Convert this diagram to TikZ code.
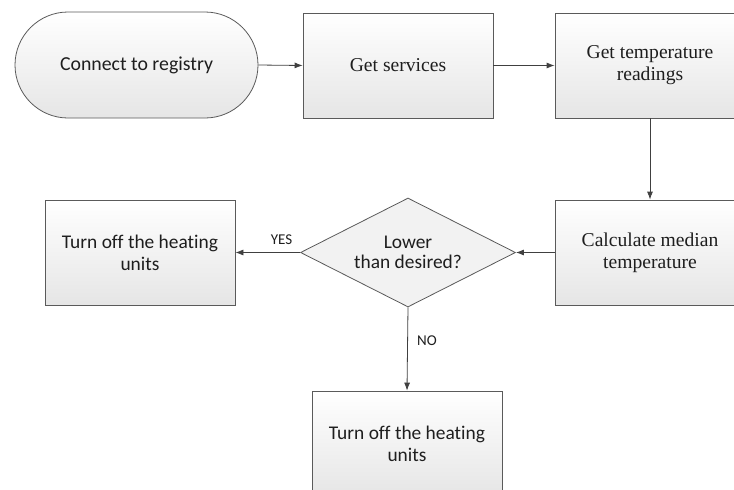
\documentclass[tikz,border=0pt]{standalone}
\usepackage{fontspec}
\setmainfont{Liberation Serif}
\newfontfamily\labelsans[Ligatures=NoCommon]{Carlito}
\usetikzlibrary{shapes.geometric,arrows.meta,shadings}
\definecolor{edgegray}{HTML}{5A5A5A}
\definecolor{linegray}{HTML}{404040}
\definecolor{inkgray}{HTML}{1E1E1E}
\begin{document}
\begin{tikzpicture}[x=1pt,y=-1pt,
  every node/.style={text=inkgray, align=center, inner sep=0pt},
  shaded/.style={draw=edgegray, line width=0.8pt, top color=white, bottom color=black!10},
  procbox/.style={shaded, rectangle, minimum width=190pt, minimum height=105pt,
    font=\fontsize{19.6}{22}\selectfont},
  sansbox/.style={procbox, font=\labelsans\fontsize{19.4}{22}\selectfont},
  terminal/.style={shaded, rectangle, rounded corners=53pt, minimum width=243pt,
    minimum height=106pt, font=\labelsans\fontsize{19.8}{22}\selectfont},
  decision/.style={draw=edgegray, line width=0.8pt, fill=black!5, diamond, aspect=2,
    minimum width=215pt, minimum height=109pt,
    font=\labelsans\fontsize{19.4}{20}\selectfont},
  flow/.style={draw=linegray, line width=0.8pt, -{Latex[length=8pt,width=6pt]}},
  tag/.style={font=\labelsans\fontsize{15}{18}\selectfont}]
  \useasboundingbox (0,0) rectangle (734,490);
  \clip (0,0) rectangle (734,490);

  % top row
  \node[terminal] (start) at (136.5,65) {Connect to registry};
  \node[procbox]  (serv)  at (398,65.5) {Get services};
  \node[procbox]  (read)  at (650,65.5) {Get temperature\\readings};

  % middle row
  \node[procbox]  (calc)  at (650,252.5) {Calculate median\\temperature};
  \node[decision] (dec)   at (408,252.5) {Lower\\than desired?};
  \node[sansbox]  (offa)  at (140,252.5) {Turn off the heating\\units};

  % bottom
  \node[sansbox]  (offb)  at (407,443.5) {Turn off the heating\\units};

  % connectors
  \draw[flow] (start.east) -- (serv.west);
  \draw[flow] (serv.east) -- (read.west);
  \draw[flow] (read.south) -- (calc.north);
  \draw[flow] (calc.west) -- (dec.east);
  \draw[flow] (dec.west) -- (offa.east);
  \draw[flow] (dec.south) -- (offb.north);

  % branch labels
  \node[tag] (yes) at (281.5,240) {YES};
  \node[tag] (no)  at (427,341) {NO};
\end{tikzpicture}
\end{document}
